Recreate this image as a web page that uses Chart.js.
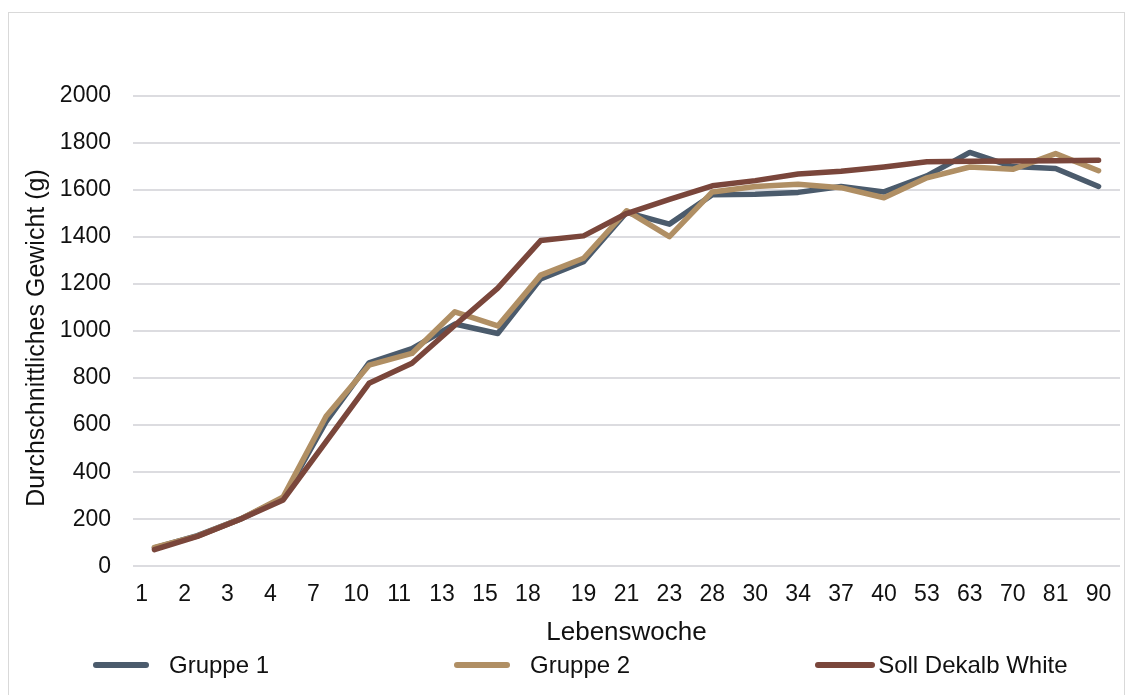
<!DOCTYPE html>
<html><head><meta charset="utf-8">
<script src="https://cdn.jsdelivr.net/npm/chart.js@4.4.1/dist/chart.umd.min.js"></script>
<style>
html,body{margin:0;padding:0;background:#fff;overflow:hidden;width:1130px;height:695px;}
#frame{position:absolute;left:8px;top:12px;width:1117px;height:690px;border:1px solid #d9d9d9;box-sizing:border-box;}
#wrap{position:absolute;left:0;top:0;width:1130px;height:695px;}
#legend{position:absolute;left:93px;top:651px;display:flex;gap:185px;font-family:'Liberation Sans',Arial,sans-serif;font-size:24px;color:#111;line-height:27px;}
.item{display:flex;align-items:center;}
.sw{display:inline-block;width:56px;height:6px;border-radius:3px;margin-right:20px;}
.item.last .sw{width:60px;margin-right:3px;}
</style></head><body>
<div id="frame"></div>
<div id="wrap"><canvas id="c" width="1130" height="695"></canvas></div>
<div id="legend"></div>
<script>
const weeks = ['1','2','3','4','7','10','11','13','15','18','19','21','23','28','30','34','37','40','53','63','70','81','90'];
const gruppe1 = [78, 130, 200, 290, 615, 865, 925, 1030, 990, 1222, 1295, 1505, 1455, 1580, 1582, 1590, 1615, 1592, 1660, 1760, 1700, 1692, 1615];
const gruppe2 = [80, 128, 200, 295, 638, 855, 905, 1082, 1022, 1238, 1310, 1512, 1402, 1592, 1615, 1625, 1610, 1567, 1652, 1698, 1688, 1755, 1682];
const sollDekalb = [70, 127, 200, 282, 530, 778, 863, 1025, 1183, 1385, 1405, 1500, 1560, 1618, 1640, 1668, 1680, 1698, 1720, 1722, 1724, 1725, 1727];
const yTicks = {min: 0, max: 2000, step: 200};

const FONT = "'Liberation Sans', Arial, sans-serif";
const seriesDefs = [
  {label: 'Gruppe 1', data: gruppe1, color: '#4b5b6c', order: 3},
  {label: 'Gruppe 2', data: gruppe2, color: '#b08f64', order: 2},
  {label: 'Soll Dekalb White', data: sollDekalb, color: '#7a463b', order: 1}
];

const datasets = seriesDefs.map(s => ({
  label: s.label, data: s.data, borderColor: s.color, backgroundColor: s.color,
  borderWidth: 5.5, pointRadius: 0, tension: 0, order: s.order,
  borderCapStyle: 'round', borderJoinStyle: 'round', fill: false
}));

new Chart(document.getElementById('c'), {
  type: 'line',
  data: {labels: weeks, datasets},
  options: {
    responsive: false, animation: false, devicePixelRatio: 1,
    layout: {padding: {left: 12, right: 10, top: 96, bottom: 47}},
    plugins: {legend: {display: false}, tooltip: {enabled: false}},
    scales: {
      x: {
        offset: true,
        grid: {display: false, drawTicks: false},
        border: {display: false},
        ticks: {
          color: '#111', font: {family: FONT, size: 23}, padding: 15,
          maxRotation: 0, autoSkip: false,
          callback: function(v, i) { const t = weeks[i]; return i < 10 ? t + '\u00a0\u00a0\u00a0\u00a0' : t; }
        },
        title: {display: true, text: 'Lebenswoche', color: '#111', font: {family: FONT, size: 26}, padding: {top: -7, bottom: 0}}
      },
      y: {
        min: yTicks.min, max: yTicks.max,
        afterFit: function(scale) { scale.width = 121; },
        grid: {color: '#dcdce0', lineWidth: 2, drawTicks: false},
        border: {display: false},
        ticks: {stepSize: yTicks.step, color: '#111', font: {family: FONT, size: 23}, padding: 22,
          callback: function(v) { return String(v); }},
        title: {display: true, text: 'Durchschnittliches Gewicht (g)\u00a0\u00a0', color: '#111', font: {family: FONT, size: 25}, padding: {top: 10, bottom: 8}}
      }
    }
  }
});

const legend = document.getElementById('legend');
seriesDefs.forEach((s, i) => {
  const it = document.createElement('div'); it.className = 'item' + (i === seriesDefs.length - 1 ? ' last' : '');
  const sw = document.createElement('span'); sw.className = 'sw'; sw.style.background = s.color;
  const tx = document.createElement('span'); tx.textContent = s.label;
  it.appendChild(sw); it.appendChild(tx); legend.appendChild(it);
});
</script>
</body></html>
